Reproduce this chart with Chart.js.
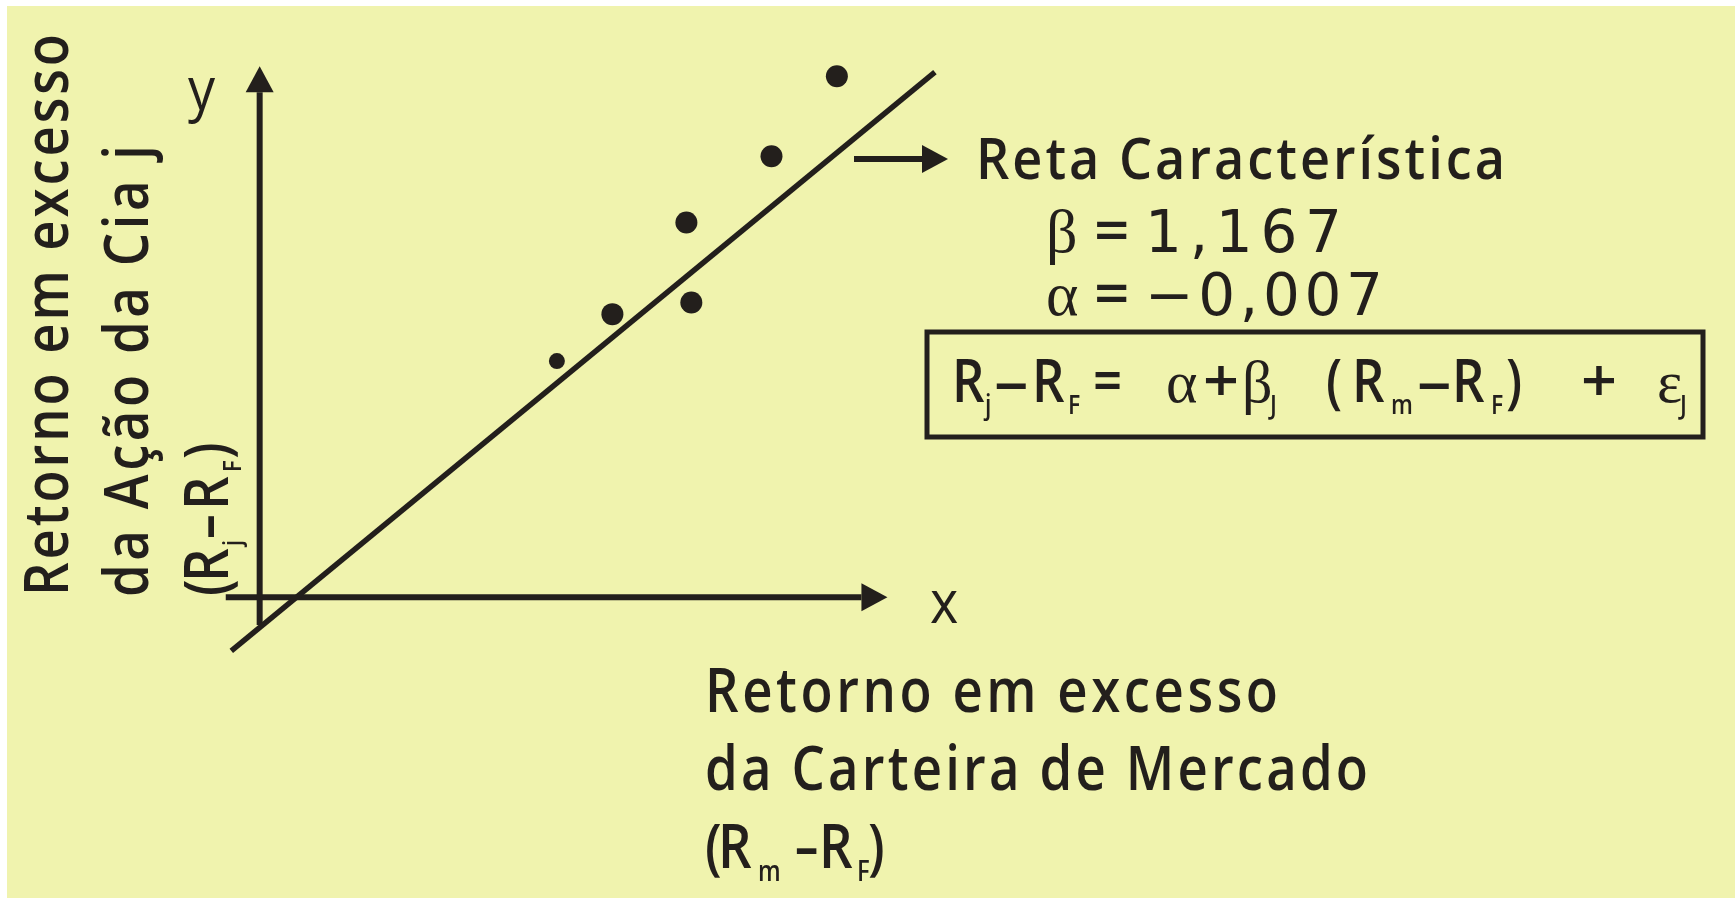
<!DOCTYPE html>
<html>
<head>
<meta charset="utf-8">
<title>Reta Característica</title>
<script src="https://cdn.jsdelivr.net/npm/chart.js@4.4.1/dist/chart.umd.min.js"></script>
<style>
  html, body { margin: 0; padding: 0; background: #fff; }
  #wrap { width: 1735px; height: 898px; position: relative; }
</style>
</head>
<body>
<div id="wrap"><canvas id="grafico"></canvas></div>
<script>
// retornos em excesso observados (decimais)
const retornoMercado = [0.0482, 0.0572, 0.0692, 0.0700, 0.0830, 0.0936];
const retornoAcao    = [0.0543, 0.0651, 0.0862, 0.0678, 0.1014, 0.1198];
const raioPonto      = [8, 11, 11, 11, 11, 11];

// parametros da reta caracteristica
const beta = 1.167;
const alfa = -0.007;
const extremosReta = [-0.0046, 0.1095];

// alcance dos eixos desenhados (com seta)
const eixoX = [-0.0055, 0.1018];
const eixoY = [-0.0064, 0.1221];

// textos
const tituloY = ['Retorno em excesso', 'da Ação da Cia j'];
const tituloX = ['Retorno em excesso', 'da Carteira de Mercado'];
const textoReta = 'Reta Característica';
const textoBeta = '1,167';
const textoAlfa = '−0,007';

const COR = '#231f1c';
const PESO = '600 ';
const FONTE = "'Open Sans', 'Noto Sans', sans-serif";
const GREGO = "'Liberation Serif', 'DejaVu Serif', serif";
const DIGITOS = "'DejaVu Sans', sans-serif";

// escreve um texto, opcionalmente comprimido e esticado ate uma largura
function escreve(ctx, txt, x, y, o) {
  ctx.save();
  ctx.translate(x, y);
  if (o.rot) ctx.rotate(-Math.PI / 2);
  const esc = o.esc || 1;
  ctx.scale(esc, 1);
  ctx.font = o.font;
  ctx.letterSpacing = '0px';
  if (o.largura) {
    const w = ctx.measureText(txt).width;
    const n = [...txt].length;
    if (n > 1) ctx.letterSpacing = ((o.largura / esc - w) / (n - 1)) + 'px';
  }
  ctx.fillText(txt, 0, 0);
  ctx.restore();
}

// sequencia de pedacos com subscritos: u = deslocamento ao longo do texto
function escreveSeq(ctx, x0, y0, rot, pedacos, tam, tamSub, desce, escTraco) {
  ctx.save();
  ctx.translate(x0, y0);
  if (rot) ctx.rotate(-Math.PI / 2);
  pedacos.forEach(p => {
    const tipo = p[2];
    let font = PESO + tam + 'px ' + FONTE, esc = 0.85, y = 0;
    if (tipo === 'sub') { font = PESO + tamSub + 'px ' + FONTE; y = desce; }
    if (tipo === 'grego') { font = tam + 'px ' + GREGO; esc = 1; }
    if (p[0] === '–') esc = escTraco;
    if (p[0] === '+') esc = 1.05;
    escreve(ctx, p[0], p[1], y, { font: font, esc: esc });
  });
  ctx.restore();
}

function seta(ctx, x1, y1, x2, y2, larg) {
  const ang = Math.atan2(y2 - y1, x2 - x1);
  const comp = 26, meia = 14;
  const bx = x2 - comp * Math.cos(ang), by = y2 - comp * Math.sin(ang);
  ctx.save();
  ctx.strokeStyle = COR;
  ctx.fillStyle = COR;
  ctx.lineWidth = larg;
  ctx.lineCap = 'butt';
  ctx.beginPath();
  ctx.moveTo(x1, y1);
  ctx.lineTo(bx, by);
  ctx.stroke();
  ctx.beginPath();
  ctx.moveTo(x2, y2);
  ctx.lineTo(bx - meia * Math.sin(ang), by + meia * Math.cos(ang));
  ctx.lineTo(bx + meia * Math.sin(ang), by - meia * Math.cos(ang));
  ctx.closePath();
  ctx.fill();
  ctx.restore();
}

const desenhos = {
  id: 'desenhos',
  beforeDraw(chart) {
    const ctx = chart.ctx;
    ctx.save();
    ctx.fillStyle = '#ffffff';
    ctx.fillRect(0, 0, chart.width, chart.height);
    ctx.fillStyle = '#f0f3ae';
    ctx.fillRect(7, 6, chart.width - 7, chart.height - 6);
    ctx.restore();
  },
  beforeDatasetsDraw(chart) {
    const ctx = chart.ctx;
    const sx = chart.scales.x, sy = chart.scales.y;
    const x0 = sx.getPixelForValue(0), y0 = sy.getPixelForValue(0);
    // eixos com seta
    seta(ctx, sx.getPixelForValue(eixoX[0]), y0, sx.getPixelForValue(eixoX[1]), y0, 6);
    seta(ctx, x0, sy.getPixelForValue(eixoY[0]), x0, sy.getPixelForValue(eixoY[1]), 6);
  },
  afterDraw(chart) {
    const ctx = chart.ctx;
    ctx.save();
    ctx.fillStyle = COR;
    ctx.textBaseline = 'alphabetic';
    ctx.textAlign = 'left';

    // rotulos dos eixos
    escreve(ctx, 'y', 188, 110, { font: '60px ' + FONTE, esc: 0.9 });
    escreve(ctx, 'x', 930, 623, { font: '60px ' + FONTE, esc: 0.9 });

    // titulo vertical
    escreve(ctx, tituloY[0], 68, 596, { font: PESO + '62px ' + FONTE, esc: 0.85, largura: 562, rot: true });
    escreve(ctx, tituloY[1], 148, 597, { font: PESO + '62px ' + FONTE, esc: 0.85, largura: 452, rot: true });
    escreveSeq(ctx, 228, 596, true, [
      ['(', 0], ['R', 14], ['j', 50, 'sub'], ['–', 57], ['R', 86], ['F', 124, 'sub'], [')', 137]
    ], 62, 26, 13, 0.8);

    // titulo horizontal
    escreve(ctx, tituloX[0], 705, 712, { font: PESO + '62px ' + FONTE, esc: 0.85, largura: 573 });
    escreve(ctx, tituloX[1], 705, 790, { font: PESO + '62px ' + FONTE, esc: 0.85, largura: 663 });
    escreveSeq(ctx, 705, 868, false, [
      ['(', 0], ['R', 13], ['m', 53, 'sub'], ['–', 90], ['R', 114], ['F', 152, 'sub'], [')', 163]
    ], 62, 28, 13, 0.75);

    // indicacao da reta
    seta(ctx, 854, 159, 948, 159, 6);
    escreve(ctx, textoReta, 976, 179, { font: PESO + '58px ' + FONTE, esc: 0.9, largura: 529 });

    escreve(ctx, 'β', 1046, 252, { font: '62px ' + GREGO });
    escreve(ctx, '=', 1094, 252, { font: PESO + '62px ' + FONTE });
    escreve(ctx, textoBeta, 1145, 252, { font: '58px ' + DIGITOS, largura: 197 });
    escreve(ctx, 'α', 1046, 315, { font: '62px ' + GREGO });
    escreve(ctx, '=', 1094, 315, { font: PESO + '62px ' + FONTE });
    escreve(ctx, textoAlfa, 1145, 315, { font: '58px ' + DIGITOS, largura: 238 });

    // equacao em caixa
    ctx.strokeStyle = COR;
    ctx.lineWidth = 5;
    ctx.strokeRect(927, 332, 776, 105);
    escreveSeq(ctx, 0, 402, false, [
      ['R', 952], ['j', 985, 'sub'], ['–', 994], ['R', 1032], ['F', 1068, 'sub'], ['=', 1093],
      ['α', 1166, 'grego'], ['+', 1203], ['β', 1242, 'grego'], ['J', 1270, 'sub'],
      ['(', 1326], ['R', 1352], ['m', 1391, 'sub'], ['–', 1417], ['R', 1452], ['F', 1491, 'sub'], [')', 1506],
      ['+', 1581], ['ε', 1657, 'grego'], ['J', 1680, 'sub']
    ], 60, 27, 12, 1.15);
    ctx.restore();
  }
};

new Chart(document.getElementById('grafico'), {
  type: 'scatter',
  data: {
    datasets: [
      {
        label: 'Reta característica',
        type: 'line',
        data: extremosReta.map(x => ({ x: x, y: alfa + beta * x })),
        borderColor: COR,
        borderWidth: 5.5,
        pointRadius: 0,
        fill: false
      },
      {
        label: 'Observações',
        data: retornoMercado.map((x, i) => ({ x: x, y: retornoAcao[i] })),
        backgroundColor: COR,
        borderWidth: 0,
        pointRadius: raioPonto,
        pointStyle: 'circle'
      }
    ]
  },
  options: {
    responsive: true,
    maintainAspectRatio: false,
    animation: false,
    events: [],
    layout: { padding: { left: 13, right: 57, top: 32, bottom: 40 } },
    plugins: { legend: { display: false }, tooltip: { enabled: false } },
    scales: {
      x: { type: 'linear', min: -0.04, max: 0.23, display: false },
      y: { type: 'linear', min: -0.06, max: 0.13, display: false }
    }
  },
  plugins: [desenhos]
});
</script>
</body>
</html>
